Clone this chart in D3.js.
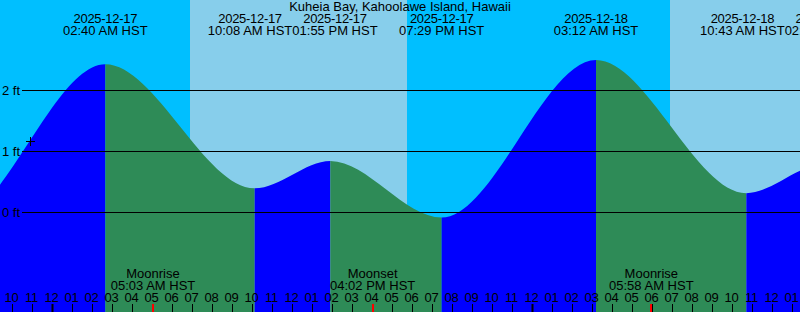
<!DOCTYPE html>
<html><head><meta charset="utf-8">
<script src="https://cdn.jsdelivr.net/npm/d3@7"></script>
<style>
html,body{margin:0;padding:0;background:#fff;overflow:hidden}
svg{display:block;font-family:"Liberation Sans",Arial,sans-serif;font-size:13px}
.dt{letter-spacing:-0.3px}
</style>
</head><body>
<svg id="chart" width="800" height="312"></svg>
<script>
// ---------- data ----------
const title = "Kuheia Bay, Kahoolawe Island, Hawaii";
const tideTimes   = ["2025-12-16 13:05","2025-12-16 19:00","2025-12-17 02:40","2025-12-17 10:08","2025-12-17 13:55","2025-12-17 19:29","2025-12-18 03:12","2025-12-18 10:43","2025-12-18 14:34","2025-12-18 20:10"];
const tideHeights = [0.80, -0.15, 2.43, 0.39, 0.84, -0.09, 2.50, 0.31, 0.78, -0.10];
const sunTimes = ["2025-12-17 06:54","2025-12-17 17:45","2025-12-18 06:54"];
const sunKinds = ["rise","set","rise"];
const moonTimes  = ["2025-12-17 05:03","2025-12-17 16:02","2025-12-18 05:58"];
const moonLabels = ["Moonrise","Moonset","Moonrise"];
const heightTicks = [0, 1, 2];
const viewStart = "2025-12-16 21:24", viewEnd = "2025-12-18 13:24";
const markerTime = "2025-12-16 22:54", markerHeight = 1.17;
const tz = "HST";

// ---------- setup ----------
const W = 800, H = 312;
const parse = d3.utcParse("%Y-%m-%d %H:%M");
const fmtDate = d3.utcFormat("%Y-%m-%d");
const fmtTime = d => d3.utcFormat("%I:%M %p")(d) + " " + tz;
const fmtHour = d3.utcFormat("%I");

const x = d3.scaleUtc().domain([parse(viewStart), parse(viewEnd)]).range([0, W]);
const y = d3.scaleLinear().domain([0, 2]).range([212, 90.4]);

const tides = tideTimes.map((t, i) => ({t: parse(t), h: tideHeights[i]}));
const svg = d3.select("#chart");

const C = {night: "#00BFFF", day: "#87CEEB", rise: "#0000FF", fall: "#2E8B57"};

// ---------- sky ----------
const bounds = [parse(viewStart), ...sunTimes.map(parse), parse(viewEnd)];
const firstIsDay = sunKinds[0] === "set";
svg.append("g").selectAll("rect").data(d3.pairs(bounds)).join("rect")
  .attr("x", d => x(d[0])).attr("y", 0)
  .attr("width", d => x(d[1]) - x(d[0])).attr("height", H)
  .attr("fill", (d, i) => ((i % 2 === 0) === firstIsDay) ? C.day : C.night);

// ---------- tide area ----------
const area = d3.area().x(d => x(d.t)).y0(H).y1(d => y(d.h)).curve(d3.curveMonotoneX);
svg.append("clipPath").attr("id", "tideClip").append("path").attr("d", area(tides));
svg.append("g").attr("clip-path", "url(#tideClip)")
  .selectAll("rect").data(d3.pairs(tides)).join("rect")
  .attr("x", d => x(d[0].t)).attr("y", 0)
  .attr("width", d => x(d[1].t) - x(d[0].t)).attr("height", H)
  .attr("fill", d => d[1].h > d[0].h ? C.rise : C.fall);

// ---------- height grid ----------
const grid = svg.append("g");
grid.selectAll("line").data(heightTicks).join("line")
  .attr("x1", 22).attr("x2", W)
  .attr("y1", d => Math.round(y(d)) + 0.5).attr("y2", d => Math.round(y(d)) + 0.5)
  .attr("stroke", "#000").attr("stroke-width", 1);
grid.selectAll("text").data(heightTicks).join("text")
  .attr("x", 2).attr("y", d => y(d) + 4.8)
  .text(d => d + " ft");

// ---------- marker ----------
const mx = Math.round(x(parse(markerTime))) + 0.5, my = Math.round(y(markerHeight)) + 0.5;
svg.append("path").attr("d", `M${mx-4.5},${my}H${mx+4.5}M${mx},${my-4.5}V${my+4.5}`)
  .attr("stroke", "#000").attr("stroke-width", 1).attr("fill", "none");

// ---------- title & extreme labels ----------
svg.append("text").attr("x", W / 2).attr("y", 11).attr("text-anchor", "middle").text(title);
const visible = tides.filter(d => x(d.t) > -44 && x(d.t) < W + 44).map(d => ({...d, cx: x(d.t)}));
const lab = svg.append("g").attr("text-anchor", "middle");
const tLabels = lab.selectAll("text.t").data(visible).join("text").attr("class", "t")
  .attr("y", 35).text(d => fmtTime(d.t));
tLabels.each(function(d) { d.w = this.getComputedTextLength(); });
// push overlapping neighbours apart so they just touch
for (let i = 0; i < visible.length - 1; i++) {
  const a = visible[i], b = visible[i + 1];
  const ov = (a.cx + a.w / 2) - (b.cx - b.w / 2);
  if (ov > 0) { a.cx -= ov / 2; b.cx += ov / 2; }
}
tLabels.attr("x", d => d.cx);
lab.selectAll("text.d").data(visible).join("text").attr("class", "d dt")
  .attr("x", d => d.cx).attr("y", 23).text(d => fmtDate(d.t));

// ---------- bottom hour axis ----------
const hours = x.ticks(d3.utcHour.every(1));
const ax = svg.append("g");
ax.selectAll("line").data(hours).join("line")
  .attr("x1", d => Math.round(x(d)) + 0.5).attr("x2", d => Math.round(x(d)) + 0.5)
  .attr("y1", 304).attr("y2", H)
  .attr("stroke", "#000")
  .attr("stroke-width", d => d.getUTCHours() === 0 ? 2 : 1);
ax.selectAll("text").data(hours).join("text")
  .attr("class", "dt")
  .attr("x", d => x(d) - 0.5).attr("y", 302).attr("text-anchor", "middle")
  .text(d => fmtHour(d));

// ---------- moon events ----------
const moons = moonTimes.map((t, i) => ({t: parse(t), label: moonLabels[i]}));
const mg = svg.append("g");
mg.selectAll("line").data(moons).join("line")
  .attr("x1", d => Math.round(x(d.t))).attr("x2", d => Math.round(x(d.t)))
  .attr("y1", 304).attr("y2", H)
  .attr("stroke", "#FF0000").attr("stroke-width", 2);
mg.selectAll("text.l").data(moons).join("text").attr("class", "l")
  .attr("x", d => x(d.t)).attr("y", 278).attr("text-anchor", "middle").text(d => d.label);
mg.selectAll("text.m").data(moons).join("text").attr("class", "m")
  .attr("x", d => x(d.t)).attr("y", 290).attr("text-anchor", "middle").text(d => fmtTime(d.t));
</script>
</body></html>
